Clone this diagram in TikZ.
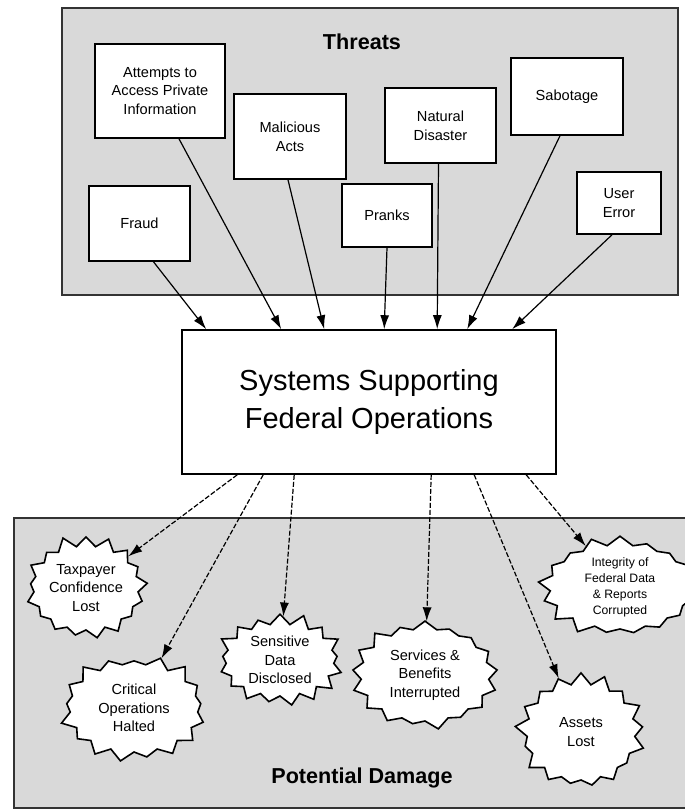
\documentclass[tikz,border=0pt]{standalone}
\usepackage{fontspec}
\setmainfont{Liberation Sans}
\usetikzlibrary{arrows.meta,shapes.symbols}

\begin{document}
\begin{tikzpicture}[x=0.5pt,y=-0.5pt,
  every node/.style={font=\fontsize{7.3}{9.3}\selectfont,align=center},
  threatbox/.style={draw,fill=white,line width=0.8pt,inner sep=1pt},
  burst/.style={starburst,draw,fill=white,line width=0.8pt,inner sep=0pt,
    starburst points=17,starburst point height=6pt},
  title/.style={font=\fontsize{10.8}{13}\selectfont\bfseries},
  threat/.style={-{Latex[length=7pt,width=4.5pt]},line width=0.6pt},
  harm/.style={threat,dash pattern=on 2.5pt off 1pt}]
\useasboundingbox (0,0) rectangle (685,810);
% panels
\fill[white] (0,0) rectangle (685,810);
\filldraw[fill=gray!30,draw=black!80,line width=0.6pt] (62,8) rectangle (678,295);
\filldraw[fill=gray!30,draw=black!80,line width=0.6pt] (14,518) rectangle (700,808);
\node[title] (threats) at (362,42) {Threats};
\node[title] (damage) at (362,778) {Potential Damage};
% threats
\node[threatbox,minimum width=65pt,minimum height=47pt] (attempts) at (160,91) {Attempts to\\Access Private\\Information};
\node[threatbox,minimum width=56pt,minimum height=42.5pt] (malicious) at (290,136.5) {Malicious\\Acts};
\node[threatbox,minimum width=55.5pt,minimum height=37.5pt] (natural) at (440.5,125.5) {Natural\\Disaster};
\node[threatbox,minimum width=56pt,minimum height=38.5pt] (sabotage) at (567,96.5) {Sabotage};
\node[threatbox,minimum width=50.5pt,minimum height=37.5pt] (fraud) at (139.5,223.5) {Fraud};
\node[threatbox,minimum width=45pt,minimum height=31.5pt] (pranks) at (387,215.5) {Pranks};
\node[threatbox,minimum width=42pt,minimum height=31pt] (usererr) at (619,203) {User\\Error};
% system
\node[threatbox,minimum width=187pt,minimum height=72pt,
  font=\fontsize{14.5}{19}\selectfont] (systems) at (369,402) {Systems Supporting\\Federal Operations};
% damage
\node[burst,minimum width=61pt,minimum height=54pt,random starburst=11] (taxpayer) at (86,588) {Taxpayer\\Confidence\\Lost};
\node[burst,minimum width=76pt,minimum height=56pt,random starburst=23] (critical) at (134,708) {Critical\\Operations\\Halted};
\node[burst,minimum width=66pt,minimum height=48pt,random starburst=37] (sensitive) at (280,660) {Sensitive\\Data\\Disclosed};
\node[burst,minimum width=76pt,minimum height=58pt,random starburst=41] (services) at (425,675) {Services \&\\Benefits\\Interrupted};
\node[burst,minimum width=66pt,minimum height=60pt,random starburst=53] (assets) at (581,732) {Assets\\Lost};
\node[burst,minimum width=82pt,minimum height=52pt,random starburst=67,
  font=\fontsize{6.1}{8}\selectfont] (integrity) at (620,587) {Integrity of\\Federal Data\\\& Reports\\Corrupted};
% threats in
\draw[threat] ([xshift=7pt]fraud.south) -- ([xshift=12.5pt]systems.north west);
\draw[threat] ([xshift=9.5pt]attempts.south) -- ([xshift=50pt]systems.north west);
\draw[threat] ([xshift=-1pt]malicious.south) -- ([xshift=71.5pt]systems.north west);
\draw[threat] (pranks.south) -- ([xshift=101.5pt]systems.north west);
\draw[threat] ([xshift=-1pt]natural.south) -- ([xshift=128pt]systems.north west);
\draw[threat] ([xshift=-3.5pt]sabotage.south) -- ([xshift=143pt]systems.north west);
\draw[threat] ([xshift=-3.5pt]usererr.south) -- ([xshift=165.5pt]systems.north west);
% damage out
\draw[harm] ([xshift=28pt]systems.south west) -- (taxpayer);
\draw[harm] ([xshift=41pt]systems.south west) -- (critical);
\draw[harm] ([xshift=56.5pt]systems.south west) -- (sensitive);
\draw[harm] ([xshift=125pt]systems.south west) -- (services);
\draw[harm] ([xshift=146.5pt]systems.south west) -- (assets);
\draw[harm] ([xshift=172.5pt]systems.south west) -- (integrity);
\end{tikzpicture}
\end{document}
